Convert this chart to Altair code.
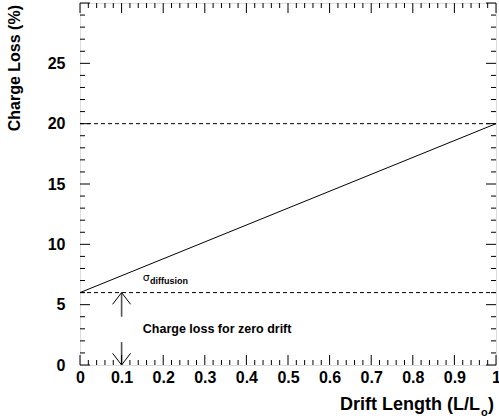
import altair as alt
import pandas as pd

# ---- data ----
line_x = [0.0, 1.0]
line_y = [6.0, 20.0]
dash_levels = [20.0, 6.0]
arrow_x = [0.1]
arrow_up_from = [4.0]
arrow_up_to = [6.0]
arrow_down_from = [1.9]
arrow_down_to = [0.0]

x_label_values = [0, 0.1, 0.2, 0.3, 0.4, 0.5, 0.6, 0.7, 0.8, 0.9, 1]
y_label_values = [0, 5, 10, 15, 20, 25]
x_major_ticks = [0, 0.1, 0.2, 0.3, 0.4, 0.5, 0.6, 0.7, 0.8, 0.9, 1.0]
x_minor_ticks = [round(i * 0.02, 2) for i in range(51) if i % 5 != 0]
y_major_ticks = [0, 5, 10, 15, 20, 25, 30]
y_minor_ticks = [i for i in range(31) if i % 5 != 0]

Y_TITLE = "Charge Loss (%)"
X_TITLE_MAIN = "Drift Length (L/L"
X_TITLE_SUB = "o"
X_TITLE_END = ")"
SIGMA = "σ"
SIGMA_SUB = "diffusion"
NOTE = "Charge loss for zero drift"

FONT = "Liberation Sans"

xs = alt.Scale(domain=[0, 1], nice=False, zero=False)
ys = alt.Scale(domain=[0, 30], nice=False, zero=False)

ax_x = alt.Axis(values=x_label_values, format="~g", title=None, ticks=False, tickSize=0,
                domain=False, grid=False, labelFont=FONT, labelFontWeight="bold",
                labelFontSize=16, labelColor="black", labelPadding=4,
                labelFlush=False, labelOverlap=False)
ax_y = alt.Axis(values=y_label_values, format="~g", title=None, ticks=False, tickSize=0,
                domain=False, grid=False, labelFont=FONT, labelFontWeight="bold",
                labelFontSize=16, labelColor="black", labelPadding=15,
                labelOverlap=False)

df_line = pd.DataFrame({"x": line_x, "y": line_y})
df_dash = pd.DataFrame({"y": dash_levels})
df_up = pd.DataFrame({"x": arrow_x, "y": arrow_up_from, "y2": arrow_up_to})
df_down = pd.DataFrame({"x": arrow_x, "y": arrow_down_from, "y2": arrow_down_to})
df_xmaj = pd.DataFrame({"v": x_major_ticks})
df_xmin = pd.DataFrame({"v": x_minor_ticks})
df_ymaj = pd.DataFrame({"v": y_major_ticks})
df_ymin = pd.DataFrame({"v": y_minor_ticks})
one = pd.DataFrame({"a": [0]})

main = alt.Chart(df_line).mark_line(color="black", strokeWidth=1).encode(
    x=alt.X("x:Q", scale=xs, axis=ax_x),
    y=alt.Y("y:Q", scale=ys, axis=ax_y),
)

dashes = alt.Chart(df_dash).mark_rule(color="black", strokeWidth=1, strokeDash=[4, 3]).encode(
    y=alt.Y("y:Q", scale=ys, axis=ax_y),
    x=alt.XDatum(0, scale=xs, axis=ax_x),
    x2=alt.X2Datum(1),
)

shaft_color = "#555555"
up_shaft = alt.Chart(df_up).mark_rule(color=shaft_color, strokeWidth=1.6).encode(
    x=alt.X("x:Q", scale=xs, axis=ax_x),
    y=alt.Y("y:Q", scale=ys, axis=ax_y),
    y2="y2:Q",
)
down_shaft = alt.Chart(df_down).mark_rule(color=shaft_color, strokeWidth=1.6).encode(
    x=alt.X("x:Q", scale=xs, axis=ax_x),
    y=alt.Y("y:Q", scale=ys, axis=ax_y),
    y2="y2:Q",
)
up_head = alt.Chart(df_up).mark_point(
    shape="M-1,1.3L0,0L1,1.3", filled=False, stroke="black", strokeWidth=1,
    size=324, opacity=1
).encode(
    x=alt.X("x:Q", scale=xs, axis=ax_x),
    y=alt.Y("y2:Q", scale=ys, axis=ax_y),
)
down_head = alt.Chart(df_down).mark_point(
    shape="M-1,-1.3L0,0L1,-1.3", filled=False, stroke="black", strokeWidth=1,
    size=324, opacity=1
).encode(
    x=alt.X("x:Q", scale=xs, axis=ax_x),
    y=alt.Y("y2:Q", scale=ys, axis=ax_y),
)

def vticks(df, yval, off, length):
    return alt.Chart(df).mark_rule(color="black", strokeWidth=1, y2Offset=off * length).encode(
        x=alt.X("v:Q", scale=xs, axis=ax_x),
        y=alt.YDatum(yval, scale=ys, axis=ax_y),
        y2=alt.Y2Datum(yval),
    )

def hticks(df, xval, off, length):
    return alt.Chart(df).mark_rule(color="black", strokeWidth=1, x2Offset=off * length).encode(
        y=alt.Y("v:Q", scale=ys, axis=ax_y),
        x=alt.XDatum(xval, scale=xs, axis=ax_x),
        x2=alt.X2Datum(xval),
    )

ticks = [
    vticks(df_xmaj, 0, -1, 10), vticks(df_xmin, 0, -1, 5),
    vticks(df_xmaj, 30, 1, 10), vticks(df_xmin, 30, 1, 5),
    hticks(df_ymaj, 0, 1, 10), hticks(df_ymin, 0, 1, 5),
    hticks(df_ymaj, 1, -1, 10), hticks(df_ymin, 1, -1, 5),
]

def label(text, x, y, size, weight="bold", font=FONT, align="left", baseline="alphabetic", angle=0):
    return alt.Chart(one).mark_text(
        text=text, font=font, fontSize=size, fontWeight=weight, align=align,
        baseline=baseline, angle=angle, color="black"
    ).encode(x=alt.value(x), y=alt.value(y))

sigma = alt.Chart(one).mark_text(
    text=SIGMA, font="DejaVu Sans", fontSize=11, align="left", baseline="alphabetic", color="black"
).encode(x=alt.XDatum(0.151, scale=xs, axis=ax_x), y=alt.YDatum(7.0, scale=ys, axis=ax_y))
sigma_sub = alt.Chart(one).mark_text(
    text=SIGMA_SUB, font=FONT, fontSize=9, fontWeight="bold", align="left",
    baseline="alphabetic", color="black"
).encode(x=alt.XDatum(0.168, scale=xs, axis=ax_x), y=alt.YDatum(6.7, scale=ys, axis=ax_y))
note = alt.Chart(one).mark_text(
    text=NOTE, font=FONT, fontSize=12.5, fontWeight="bold", align="left",
    baseline="alphabetic", color="black"
).encode(x=alt.XDatum(0.151, scale=xs, axis=ax_x), y=alt.YDatum(2.65, scale=ys, axis=ax_y))

y_title = label(Y_TITLE, -65, 2, 16, align="right", baseline="middle", angle=270)
x_title = label(X_TITLE_MAIN, 400, 407, 18, align="right")
x_sub = label(X_TITLE_SUB, 401, 413, 11, align="left")
x_end = label(X_TITLE_END, 408, 407, 18, align="left")

chart = alt.layer(
    main, dashes, up_shaft, down_shaft, up_head, down_head, *ticks,
    sigma, sigma_sub, note, y_title, x_title, x_sub, x_end
).properties(
    width=416, height=362,
    padding={"left": 80, "top": 3, "right": 3, "bottom": 54},
    autosize=alt.AutoSizeParams(type="none"),
).configure_view(
    stroke="black", strokeWidth=2
).configure(background="white")

chart.save("out.html", embed_options={"renderer": "svg", "actions": False})
